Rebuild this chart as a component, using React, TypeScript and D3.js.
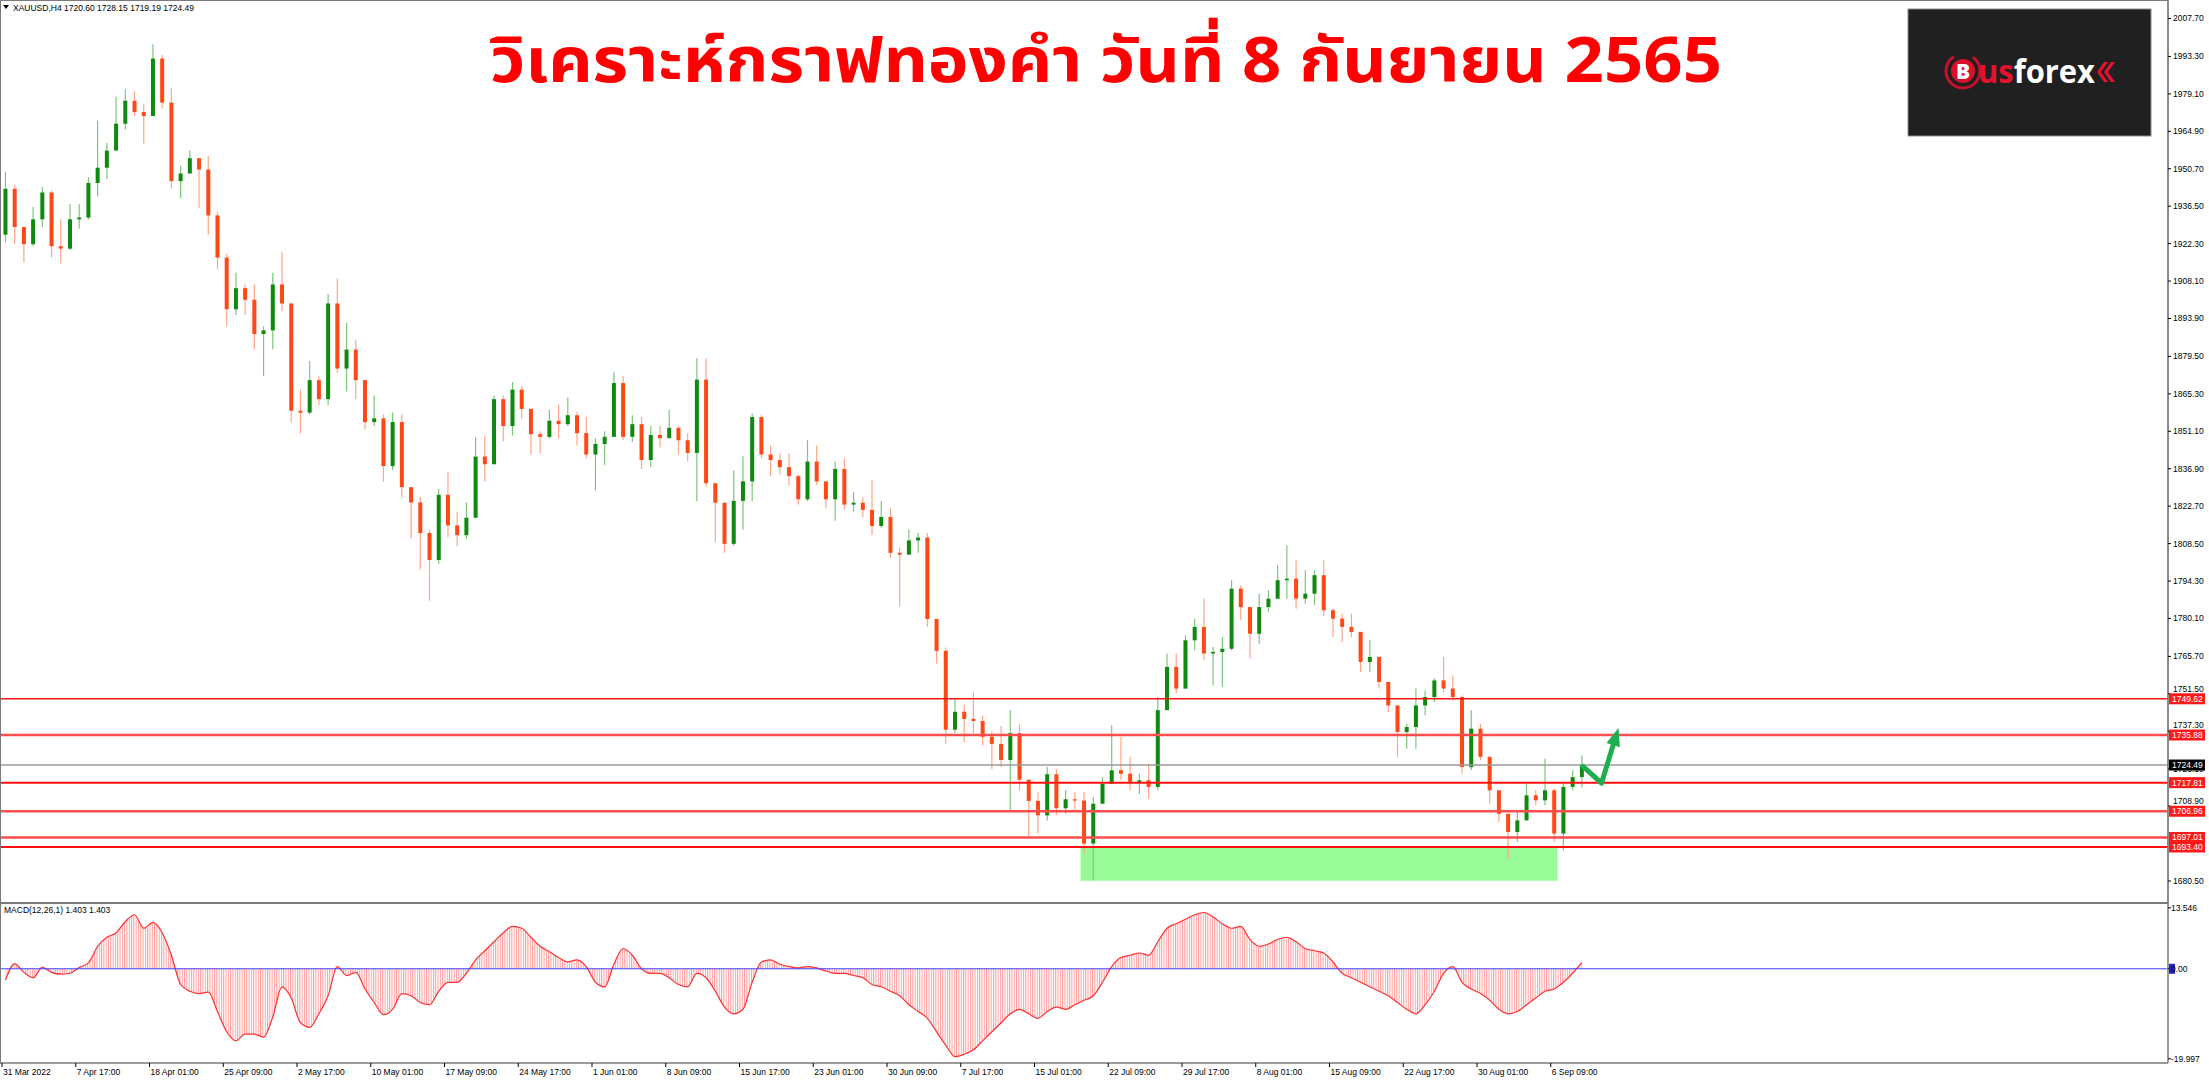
import React from "react";
import * as d3 from "d3";

// XAUUSD H4, each candle below groups 4 H4 bars
const firstOpen = 1925.7;
const closes = [
  1943.1, 1928.6, 1922.1, 1931.5, 1941.7, 1921.3, 1920.4, 1931.5, 1932.2, 1945.3,
  1951.1, 1957.6, 1967.8, 1976.5, 1972.2, 1970.7, 1992.5, 1975.8, 1946.0, 1948.9,
  1954.7, 1950.4, 1933.0, 1917.0, 1897.4, 1905.4, 1901.0, 1888.0, 1889.4, 1906.8,
  1899.6, 1858.9, 1858.2, 1870.5, 1863.3, 1899.6, 1874.9, 1882.1, 1870.5, 1854.6,
  1856.0, 1837.9, 1854.6, 1829.9, 1824.1, 1812.5, 1802.3, 1827.0, 1815.4, 1811.7,
  1818.3, 1841.5, 1838.6, 1863.3, 1853.1, 1866.9, 1859.6, 1850.0, 1849.0, 1855.1,
  1853.8, 1857.2, 1850.4, 1842.3, 1846.3, 1849.0, 1869.4, 1849.0, 1853.8, 1840.2,
  1849.7, 1848.5, 1852.4, 1847.7, 1842.9, 1870.7, 1831.4, 1824.0, 1808.4, 1824.7,
  1832.1, 1856.5, 1842.3, 1840.2, 1837.5, 1834.1, 1825.3, 1839.6, 1832.1, 1825.3,
  1836.8, 1823.3, 1824.0, 1821.3, 1815.2, 1818.6, 1805.0, 1804.3, 1809.7, 1810.8,
  1779.9, 1767.8, 1737.9, 1744.7, 1742.0, 1741.2, 1735.2, 1732.5, 1726.4, 1736.6,
  1718.9, 1710.9, 1705.4, 1721.0, 1708.1, 1711.5, 1711.0, 1694.7, 1709.8, 1717.4,
  1722.5, 1721.2, 1718.1, 1718.7, 1716.2, 1745.3, 1761.7, 1753.5, 1771.8, 1776.9,
  1766.8, 1767.4, 1768.6, 1791.4, 1784.4, 1774.3, 1784.4, 1787.6, 1794.6, 1795.2,
  1787.6, 1789.5, 1796.5, 1783.2, 1780.0, 1776.9, 1775.0, 1763.6, 1765.5, 1756.0,
  1747.1, 1737.0, 1738.9, 1747.1, 1750.3, 1756.6, 1753.5, 1750.3, 1723.7, 1738.3,
  1727.6, 1714.9, 1706.0, 1699.1, 1703.5, 1713.0, 1711.1, 1714.9, 1698.5, 1716.2,
  1719.9, 1724.49,
];
const highs = [
  1949.4, 1944.6, 1928.6, 1936.2, 1943.8, 1942.4, 1931.5, 1937.3, 1937.3, 1947.5,
  1969.0, 1960.5, 1978.0, 1980.9, 1980.1, 1975.1, 1997.9, 1993.9, 1981.2, 1951.8,
  1957.6, 1954.7, 1955.5, 1934.4, 1918.4, 1911.2, 1906.8, 1906.8, 1890.9, 1911.2,
  1919.2, 1899.6, 1866.9, 1877.8, 1872.0, 1903.2, 1909.0, 1892.3, 1885.8, 1865.5,
  1864.7, 1857.5, 1858.2, 1857.5, 1828.4, 1826.3, 1813.9, 1829.2, 1835.7, 1820.4,
  1824.1, 1848.8, 1849.5, 1864.7, 1864.7, 1869.8, 1868.4, 1858.5, 1851.1, 1859.2,
  1861.2, 1863.9, 1858.5, 1856.5, 1848.4, 1851.1, 1873.7, 1872.1, 1857.2, 1856.5,
  1853.1, 1853.1, 1859.2, 1853.1, 1850.4, 1878.8, 1878.8, 1831.4, 1824.0, 1836.2,
  1841.6, 1857.8, 1857.2, 1845.7, 1842.9, 1842.9, 1834.8, 1847.7, 1845.7, 1831.4,
  1839.6, 1840.9, 1828.0, 1826.0, 1832.8, 1824.6, 1821.9, 1807.0, 1813.8, 1812.5,
  1812.5, 1779.9, 1769.1, 1749.5, 1747.4, 1752.1, 1743.3, 1737.3, 1739.3, 1745.4,
  1740.0, 1716.9, 1714.2, 1723.7, 1723.0, 1714.9, 1714.2, 1714.3, 1712.4, 1720.0,
  1739.6, 1735.1, 1727.6, 1721.2, 1725.0, 1750.3, 1766.8, 1766.8, 1773.7, 1780.0,
  1787.6, 1769.3, 1773.1, 1794.6, 1792.7, 1784.4, 1789.5, 1790.8, 1800.3, 1807.9,
  1802.2, 1798.4, 1798.4, 1802.2, 1783.8, 1781.9, 1781.9, 1775.0, 1771.8, 1760.4,
  1753.5, 1745.3, 1740.2, 1753.5, 1752.8, 1757.3, 1765.5, 1758.5, 1750.9, 1745.3,
  1740.2, 1726.9, 1714.9, 1704.8, 1706.7, 1717.4, 1714.9, 1726.9, 1715.5, 1718.1,
  1722.5, 1728.15,
];
const lows = [
  1922.8, 1922.1, 1915.2, 1921.3, 1928.6, 1917.0, 1914.8, 1919.9, 1927.9, 1931.5,
  1940.2, 1946.8, 1959.1, 1965.6, 1970.7, 1960.3, 1970.7, 1973.6, 1943.1, 1939.5,
  1948.9, 1935.9, 1925.7, 1912.6, 1890.9, 1895.2, 1895.2, 1882.1, 1872.0, 1882.1,
  1896.7, 1854.6, 1850.2, 1857.5, 1861.1, 1861.1, 1873.4, 1866.2, 1863.3, 1851.7,
  1853.1, 1832.1, 1836.4, 1826.0, 1810.3, 1798.7, 1786.8, 1800.8, 1811.0, 1807.4,
  1810.3, 1825.5, 1832.1, 1842.2, 1847.3, 1849.5, 1856.0, 1842.3, 1842.9, 1848.4,
  1848.4, 1853.1, 1845.7, 1840.9, 1828.7, 1838.2, 1849.0, 1847.7, 1847.0, 1836.8,
  1837.5, 1845.0, 1848.4, 1842.3, 1839.6, 1824.6, 1830.1, 1809.1, 1805.0, 1807.7,
  1813.8, 1824.6, 1840.9, 1834.1, 1834.8, 1830.7, 1823.3, 1824.6, 1830.7, 1821.9,
  1817.2, 1821.3, 1820.6, 1818.6, 1811.8, 1814.5, 1803.0, 1784.7, 1805.0, 1805.0,
  1777.0, 1763.0, 1732.5, 1736.6, 1733.2, 1736.6, 1731.9, 1723.0, 1723.7, 1706.8,
  1714.9, 1697.3, 1698.7, 1703.4, 1705.4, 1706.1, 1707.5, 1690.9, 1680.8, 1711.1,
  1719.3, 1718.7, 1714.9, 1713.6, 1711.7, 1714.9, 1751.6, 1751.6, 1758.5, 1768.0,
  1764.2, 1754.7, 1754.1, 1768.0, 1779.4, 1764.9, 1770.5, 1782.6, 1789.5, 1787.6,
  1783.8, 1785.7, 1785.1, 1781.0, 1773.1, 1771.2, 1773.1, 1759.8, 1759.8, 1753.5,
  1744.6, 1727.6, 1730.7, 1730.7, 1743.4, 1748.4, 1752.2, 1749.0, 1721.2, 1722.5,
  1726.3, 1709.8, 1702.9, 1689.0, 1695.3, 1707.9, 1709.2, 1709.2, 1695.3, 1692.1,
  1714.9, 1716.0,
];

// MACD(12,26,1) main line, one value per candle
const macdValues = [
  -2.5, 1.1, -0.8, -2.0, 0.3, -0.8, -1.2, -1.0, 0.3, 1.3,
  5.0, 7.0, 8.0, 10.5, 12.0, 9.0, 10.3, 8.0, 3.0, -3.5,
  -5.0, -5.5, -5.2, -9.5, -14.0, -16.0, -14.5, -14.5, -15.2, -10.7,
  -4.0, -6.5, -12.0, -13.0, -10.0, -6.0, 0.5, -1.5, -0.8, -4.5,
  -7.5, -10.2, -9.0, -5.5, -6.0, -7.5, -8.0, -5.0, -3.0, -3.0,
  -1.0, 2.0, 4.0, 6.0, 8.0, 9.4, 9.0, 7.0, 5.0, 3.8,
  2.5, 1.5, 2.0, 0.5, -3.0, -4.0, 1.0, 4.5, 3.0, 0.0,
  -1.0, -1.0, -2.0, -3.5, -4.0, -1.0, -2.0, -5.0, -8.5, -10.0,
  -9.0, -3.0, 1.5, 2.0, 1.0, 0.5, 0.2, 0.5, 0.2, -0.5,
  -1.0, -1.0, -1.5, -2.0, -3.5, -4.0, -5.0, -6.0, -8.0, -9.5,
  -11.0, -14.0, -17.0, -19.5, -19.0, -18.0, -16.0, -14.0, -12.0, -10.0,
  -9.0, -10.0, -11.0, -9.5, -8.5, -9.0, -8.0, -7.0, -6.0, -3.0,
  0.5, 2.5, 3.0, 3.5, 3.0, 6.0, 9.0, 10.0, 11.0, 12.0,
  12.5, 11.5, 10.0, 9.0, 9.4, 6.5, 5.0, 5.5, 6.5, 7.0,
  6.0, 4.5, 4.0, 3.5, 1.5, -1.0, -2.0, -3.0, -4.0, -5.0,
  -6.0, -7.5, -9.0, -10.0, -8.0, -5.0, -1.0, 0.5, -3.0, -4.5,
  -5.5, -7.0, -9.0, -10.0, -9.5, -8.0, -6.5, -5.0, -4.5, -3.0,
  -1.0, 1.403,
];

const dateLabels = [
  "31 Mar 2022", "7 Apr 17:00", "18 Apr 01:00", "25 Apr 09:00", "2 May 17:00",
  "10 May 01:00", "17 May 09:00", "24 May 17:00", "1 Jun 01:00", "8 Jun 09:00",
  "15 Jun 17:00", "23 Jun 01:00", "30 Jun 09:00", "7 Jul 17:00", "15 Jul 01:00",
  "22 Jul 09:00", "29 Jul 17:00", "8 Aug 01:00", "15 Aug 09:00", "22 Aug 17:00",
  "30 Aug 01:00", "6 Sep 09:00",
];
// 1694.70 is fully hidden behind the level labels in the screenshot
const priceTicks = [
  2007.7, 1993.3, 1979.1, 1964.9, 1950.7, 1936.5, 1922.3, 1908.1, 1893.9, 1879.5,
  1865.3, 1851.1, 1836.9, 1822.7, 1808.5, 1794.3, 1780.1, 1765.7, 1751.5, 1737.3,
  1723.1, 1708.9, 1680.5,
];
const macdTicks = [13.546, 0, -19.997];
const levelPrices = [1749.62, 1735.88, 1717.81, 1706.96, 1697.01, 1693.4];
const levelWidths = [1.5, 2.5, 2, 2.5, 2.5, 2];
const bidPrice = 1724.49;
// support zone, in bar index / price
const zoneBars = [468, 675];
const zonePrices = [1693.4, 1680.6];
// hand drawn arrow, in bar index / price
const arrowBars = [686, 694, 701];
const arrowPrices = [1724.0, 1717.6, 1737.5];

const BARS_PER_CANDLE = 4;
const BARS_PER_LABEL = 32;

const W = 2209, H = 1080;
const axisX = 2168;
const mainBottom = 902;
const macdTop = 904;
const macdBottom = 1063;
const axisFont = "'Liberation Sans', 'DejaVu Sans', sans-serif";

export default function App() {
  const x = d3.scaleLinear().domain([0, BARS_PER_LABEL]).range([2, 75.75]);
  const y = d3.scaleLinear().domain([1680.5, 2007.7]).range([881, 18.5]);
  const my = d3.scaleLinear().domain([-19.997, 13.546]).range([1058.8, 907.8]);
  const cx = (i: number) => x(i * BARS_PER_CANDLE + 1.5);

  const candles = closes.map((c, i) => {
    const o = i === 0 ? firstOpen : closes[i - 1];
    return { i, o, c, h: Math.max(highs[i], o, c), l: Math.min(lows[i], o, c) };
  });

  // tick labels sitting under a price tag get nudged clear of it
  const boxes = [...levelPrices, bidPrice].map(p => y(p));
  const tickY = (p: number) => {
    let ty = y(p);
    for (const b of boxes) {
      if (Math.abs(ty - b) < 10 && ty < b) ty = b - 10;
    }
    return ty;
  };

  const area = d3.area<number>()
    .x((_, i) => cx(i))
    .y0(my(0))
    .y1(d => my(d))
    .curve(d3.curveMonotoneX);
  const line = d3.line<number>()
    .x((_, i) => cx(i))
    .y(d => my(d))
    .curve(d3.curveMonotoneX);

  const arrowPts = arrowBars.map((b, k) => [x(b), y(arrowPrices[k])] as [number, number]);
  const tip = arrowPts[2];
  const prev = arrowPts[1];
  const len = Math.hypot(tip[0] - prev[0], tip[1] - prev[1]);
  const ux = (tip[0] - prev[0]) / len, uy = (tip[1] - prev[1]) / len;
  const base: [number, number] = [tip[0] - ux * 15, tip[1] - uy * 15];
  const head = [
    [tip[0] + ux * 3, tip[1] + uy * 3],
    [base[0] + uy * 7, base[1] - ux * 7],
    [base[0] - uy * 7, base[1] + ux * 7],
  ];

  return (
    <svg width={W} height={H} style={{ position: "absolute", left: 0, top: 0, display: "block", background: "#fff" }}>
      <defs>
        <pattern id="hatch" patternUnits="userSpaceOnUse" x={2} y={0} width={x(1) - x(0)} height={20}>
          <rect x={0} y={0} width={1} height={20} fill="#ff9c9c" />
        </pattern>
        <clipPath id="mainClip"><rect x={1} y={1} width={axisX - 1} height={mainBottom - 1} /></clipPath>
      </defs>

      {/* support zone (background object) */}
      <rect x={x(zoneBars[0])} y={y(zonePrices[0])} width={x(zoneBars[1]) - x(zoneBars[0])}
        height={y(zonePrices[1]) - y(zonePrices[0])} fill="#98fb98" />

      {/* candles */}
      <g clipPath="url(#mainClip)">
        {candles.map(d => {
          const up = d.c >= d.o;
          const top = y(Math.max(d.o, d.c));
          const bh = Math.max(1, Math.abs(y(d.o) - y(d.c)));
          return (
            <g key={d.i}>
              <line x1={cx(d.i)} x2={cx(d.i)} y1={y(d.h)} y2={y(d.l)}
                stroke={up ? "#7cc67c" : "#ffa688"} strokeWidth={1.2} />
              <rect x={cx(d.i) - 2} y={top} width={4} height={bh} fill={up ? "#0e8a0e" : "#ff4816"} />
            </g>
          );
        })}
      </g>

      {/* level lines */}
      {levelPrices.map((p, k) => (
        <line key={p} x1={0} x2={axisX} y1={y(p)} y2={y(p)} stroke={levelWidths[k] > 2 ? "#ff4d4d" : "#ff1010"}
          strokeWidth={levelWidths[k]} />
      ))}
      <line x1={0} x2={axisX} y1={y(bidPrice)} y2={y(bidPrice)} stroke="#9a9a9a" strokeWidth={1.5} />

      {/* arrow */}
      <polyline points={arrowPts.slice(0, 2).map(p => p.join(",")).join(" ") + " " + base.join(",")}
        fill="none" stroke="#1fae4e" strokeWidth={5} strokeLinejoin="round" strokeLinecap="round" />
      <polygon points={head.map(p => p.join(",")).join(" ")} fill="#1fae4e" />

      {/* title */}
      <text x={1106} y={82} textAnchor="middle" fontSize={62} fontWeight={700} fill="#ff0000"
        fontFamily="'Noto Sans Thai', 'Noto Sans', 'DejaVu Sans', sans-serif"
        textLength={1232} lengthAdjust="spacingAndGlyphs">
        วิเคราะห์กราฟทองคำ วันที่ 8 กันยายน 2565
      </text>

      {/* logo */}
      <rect x={1908} y={9} width={243} height={127} fill="#202020" stroke="#8a8a8a" strokeWidth={1} />
      <circle cx={1963} cy={71} r={17} fill="none" stroke="#c8102e" strokeWidth={3} strokeDasharray="70 20" />
      <circle cx={1963} cy={71} r={12} fill="#d7102c" />
      <text x={1963} y={79} textAnchor="middle" fontSize={21} fontWeight={800} fill="#fff"
        fontFamily="'Open Sans', sans-serif">B</text>
      <text x={1978} y={83} fontSize={32} fontWeight={700} fontFamily="'Open Sans', sans-serif"
        textLength={117} lengthAdjust="spacingAndGlyphs">
        <tspan fill="#e3122f">us</tspan><tspan fill="#ffffff">forex</tspan>
      </text>
      <path d="M2104,62 L2097,72 L2104,82 L2108,82 L2101,72 L2108,62 Z M2111,62 L2104,72 L2111,82 L2115,82 L2108,72 L2115,62 Z"
        fill="#e3122f" />

      {/* header */}
      <path d="M3,5 L9,5 L6,9 Z" fill="#000" />
      <text x={13} y={10.5} fontSize={8.5} fontFamily={axisFont} fill="#000">
        XAUUSD,H4  1720.60 1728.15 1719.19 1724.49
      </text>

      {/* MACD */}
      <path d={area(macdValues) ?? ""} fill="url(#hatch)" />
      <path d={line(macdValues) ?? ""} fill="none" stroke="#ff3030" strokeWidth={1.2} />
      <line x1={0} x2={axisX} y1={my(0)} y2={my(0)} stroke="#3f3fff" strokeWidth={1} />
      <text x={4} y={913} fontSize={8.5} fontFamily={axisFont} fill="#000">MACD(12,26,1) 1.403 1.403</text>

      {/* frames */}
      <rect x={0.5} y={0.5} width={axisX - 0.5} height={mainBottom} fill="none" stroke="#7a7a7a" strokeWidth={1} />
      <line x1={0} x2={axisX} y1={mainBottom + 1} y2={mainBottom + 1} stroke="#7a7a7a" strokeWidth={2} />
      <line x1={0} x2={axisX} y1={macdBottom} y2={macdBottom} stroke="#7a7a7a" strokeWidth={1.5} />
      <line x1={0.5} x2={0.5} y1={macdTop} y2={macdBottom} stroke="#7a7a7a" strokeWidth={1} />
      <line x1={axisX} x2={axisX} y1={0} y2={macdBottom} stroke="#7a7a7a" strokeWidth={1.5} />

      {/* price axis */}
      {priceTicks.map(p => (
        <g key={p}>
          <line x1={axisX} x2={axisX + 3} y1={y(p)} y2={y(p)} stroke="#000" />
          <text x={axisX + 5} y={tickY(p)} dy="0.35em" fontSize={8.5} fontFamily={axisFont} fill="#000">{p.toFixed(2)}</text>
        </g>
      ))}
      {levelPrices.map(p => (
        <g key={"l" + p}>
          <rect x={axisX + 1} y={y(p) - 5.5} width={36} height={11} fill="#ff1a1a" />
          <text x={axisX + 4} y={y(p)} dy="0.35em" fontSize={8.5} fontFamily={axisFont} fill="#fff">{p.toFixed(2)}</text>
        </g>
      ))}
      <rect x={axisX + 1} y={y(bidPrice) - 5.5} width={36} height={11} fill="#000" />
      <text x={axisX + 4} y={y(bidPrice)} dy="0.35em" fontSize={8.5} fontFamily={axisFont} fill="#fff">{bidPrice.toFixed(2)}</text>

      {/* MACD axis */}
      {macdTicks.map(v => (
        <g key={v}>
          <line x1={axisX} x2={axisX + 3} y1={my(v)} y2={my(v)} stroke="#000" />
          {v === 0 && <rect x={axisX + 1} y={my(v) - 5} width={6} height={10} fill="#2424d0" />}
          <text x={axisX + 3} y={my(v)} dy="0.35em" fontSize={8.5} fontFamily={axisFont} fill="#000">
            {v === 0 ? "0.00" : v.toFixed(3)}
          </text>
        </g>
      ))}

      {/* time axis */}
      {dateLabels.map((t, k) => (
        <g key={t}>
          <line x1={x(k * BARS_PER_LABEL)} x2={x(k * BARS_PER_LABEL)} y1={macdBottom} y2={macdBottom + 4} stroke="#000" />
          <text x={x(k * BARS_PER_LABEL) + 1} y={1075} fontSize={8.5} fontFamily={axisFont} fill="#000">{t}</text>
        </g>
      ))}
    </svg>
  );
}
